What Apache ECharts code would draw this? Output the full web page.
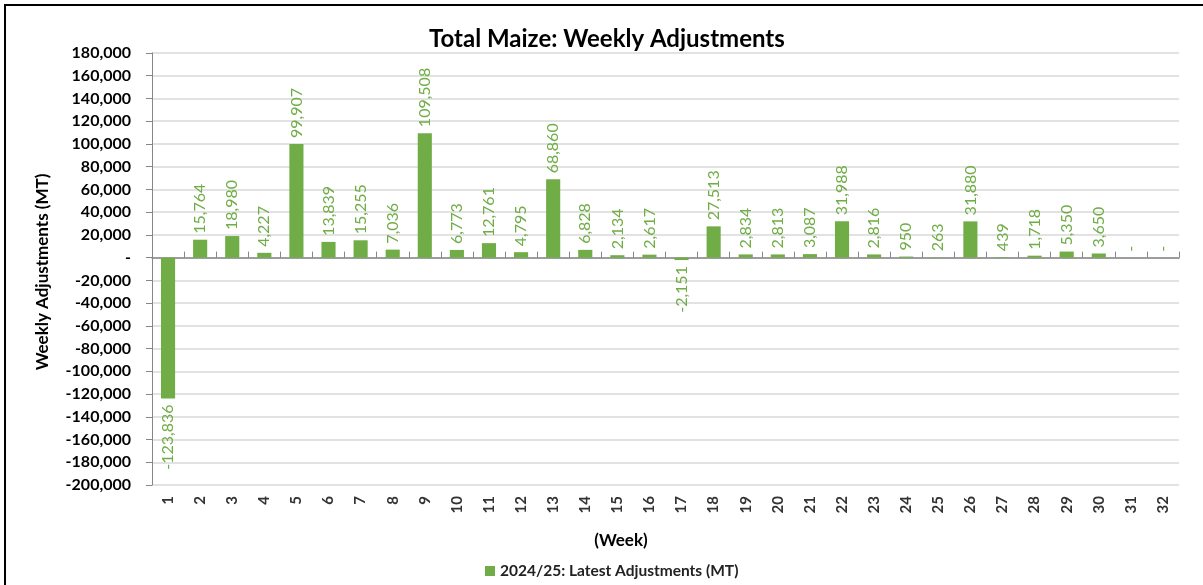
<!DOCTYPE html>
<html>
<head>
<meta charset="utf-8">
<script src="https://cdn.jsdelivr.net/npm/echarts@6/dist/echarts.min.js"></script>
<style>html,body{margin:0;padding:0;background:#fff;}#c{width:1203px;height:585px;}</style>
</head>
<body>
<div id="c"></div>
<script>
const weeks = ['1','2','3','4','5','6','7','8','9','10','11','12','13','14','15','16','17','18','19','20','21','22','23','24','25','26','27','28','29','30','31','32'];
const adjustments = [-123836,15764,18980,4227,99907,13839,15255,7036,109508,6773,12761,4795,68860,6828,2134,2617,-2151,27513,2834,2813,3087,31988,2816,950,263,31880,439,1718,5350,3650,0,0];
const seriesName = '2024/25: Latest Adjustments (MT)';
const yMin = -200000, yMax = 180000, yStep = 20000;

const FONT = 'Lato, "Open Sans", sans-serif';
const GREEN = '#70ad47';
const fmt = v => v === 0 ? '-' : v.toLocaleString('en-US');

const chart = echarts.init(document.getElementById('c'), null, {renderer: 'canvas'});
const data = adjustments.map(v => v < 0 ? {
  value: v,
  label: {position: 'bottom', align: 'right'}
} : v);

chart.setOption({
  animation: false,
  backgroundColor: '#fff',
  textStyle: {fontFamily: FONT},
  graphic: [{
    type: 'rect', shape: {x: 5, y: 5, width: 1300, height: 700},
    style: {fill: 'none', stroke: '#000', lineWidth: 2}, z: 100
  }, {
    type: 'text', x: 621, y: 541,
    style: {text: '(Week)', textAlign: 'center', textVerticalAlign: 'middle',
      font: 'bold 17px ' + FONT, fill: '#000'}
  }, {
    type: 'text', x: 43, y: 272, rotation: Math.PI / 2,
    style: {text: 'Weekly Adjustments (MT)', textAlign: 'center', textVerticalAlign: 'middle',
      font: 'bold 17px ' + FONT, fill: '#000'}
  }],
  title: {
    text: 'Total Maize: Weekly Adjustments',
    left: 424, top: 22,
    textStyle: {fontFamily: FONT, fontSize: 24, fontWeight: 'bold', color: '#000'}
  },
  legend: {
    top: 558, left: 480,
    itemWidth: 10, itemHeight: 10, itemGap: 5,
    icon: 'rect',
    textStyle: {fontFamily: FONT, fontSize: 15.5, fontWeight: 'bold', color: '#222'},
    data: [seriesName]
  },
  grid: {left: 152, right: 24, top: 53, bottom: 100, containLabel: false},
  xAxis: [{
    type: 'category', data: weeks, position: 'bottom',
    axisLine: {onZero: true, lineStyle: {color: '#868686', width: 1.5}},
    axisTick: {show: true, inside: true, length: 6, lineStyle: {color: '#868686'}},
    axisLabel: {show: false},
    splitLine: {show: false}
  }, {
    type: 'category', data: weeks, position: 'bottom',
    axisLine: {show: false, onZero: false},
    axisTick: {show: false},
    axisLabel: {rotate: 90, margin: 11, fontFamily: FONT, fontSize: 15, fontWeight: 'bold', color: '#333'},
    splitLine: {show: false}
  }],
  yAxis: {
    type: 'value', min: yMin, max: yMax, interval: yStep,
    axisLine: {show: true, lineStyle: {color: '#868686'}},
    axisTick: {show: true, length: 6, lineStyle: {color: '#868686'}},
    axisLabel: {margin: 21, fontFamily: FONT, fontSize: 16, fontWeight: 'bold', color: '#000',
      formatter: v => v === 0 ? '-' : v.toLocaleString('en-US')},
    splitLine: {show: true, lineStyle: {color: '#d9d9d9', width: 1.5}}
  },
  series: [{
    name: seriesName, type: 'bar', xAxisIndex: 0,
    data: data, barWidth: '44%',
    itemStyle: {color: GREEN},
    label: {
      show: true, position: 'top', rotate: 90, align: 'left', verticalAlign: 'middle',
      distance: 6,
      fontFamily: FONT, fontSize: 16, color: GREEN,
      formatter: p => fmt(p.value)
    }
  }]
});
</script>
</body>
</html>
